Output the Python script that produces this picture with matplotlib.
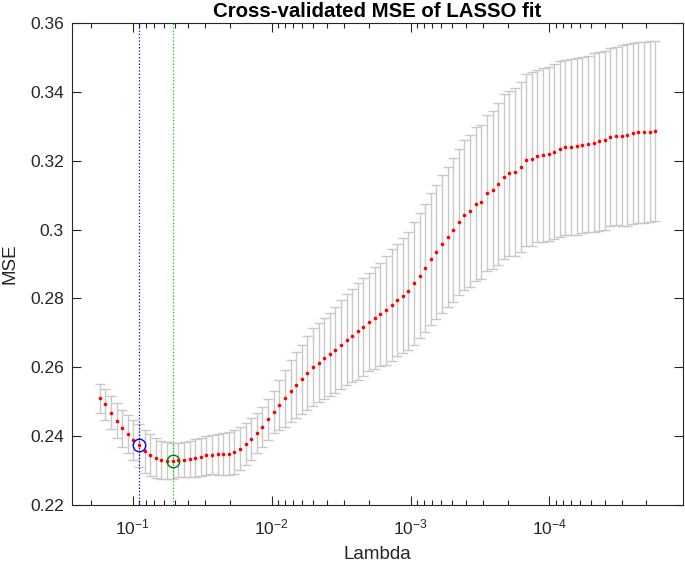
import numpy as np
import matplotlib
matplotlib.use("Agg")
import matplotlib.pyplot as plt
from matplotlib.ticker import LogLocator, NullFormatter

plt.rcParams['font.family'] = ['Liberation Sans', 'DejaVu Sans']
plt.rcParams['mathtext.fontset'] = 'custom'
plt.rcParams['mathtext.rm'] = 'Liberation Sans'
plt.rcParams['mathtext.it'] = 'Liberation Sans'

# lambda grid of the lasso path (100 values, ratio 1e-4)
lambda_max = 0.173
lambda_min = 1.73e-5
lam = np.geomspace(lambda_max, lambda_min, 100)

# cross-validated MSE
mse = [0.2510, 0.2492, 0.2468, 0.2445, 0.2423, 0.2406, 0.2389, 0.2373, 0.2356, 0.2344,
       0.2337, 0.2331, 0.2329, 0.2328, 0.2330, 0.2331, 0.2334, 0.2337, 0.2340, 0.2344,
       0.2346, 0.2347, 0.2347, 0.2349, 0.2353, 0.2364, 0.2377, 0.2392, 0.2408, 0.2427,
       0.2449, 0.2470, 0.2490, 0.2510, 0.2531, 0.2549, 0.2565, 0.2584, 0.2601, 0.2613,
       0.2626, 0.2638, 0.2649, 0.2666, 0.2680, 0.2692, 0.2704, 0.2717, 0.2732, 0.2744,
       0.2754, 0.2765, 0.2780, 0.2795, 0.2808, 0.2822, 0.2844, 0.2866, 0.2888, 0.2914,
       0.2935, 0.2958, 0.2978, 0.2998, 0.3021, 0.3042, 0.3053, 0.3074, 0.3080, 0.3106,
       0.3115, 0.3132, 0.3154, 0.3163, 0.3167, 0.3181, 0.3202, 0.3205, 0.3213, 0.3216,
       0.3219, 0.3226, 0.3234, 0.3239, 0.3240, 0.3242, 0.3246, 0.3249, 0.3252, 0.3256,
       0.3260, 0.3268, 0.3272, 0.3272, 0.3275, 0.3280, 0.3282, 0.3283, 0.3284, 0.3286]

# standard error of the MSE
se = [0.0042, 0.0045, 0.0048, 0.0051, 0.0054, 0.0056, 0.0058, 0.0062, 0.0062, 0.0061,
      0.0059, 0.0056, 0.0054, 0.0053, 0.0050, 0.0051, 0.0053, 0.0055, 0.0056, 0.0056,
      0.0057, 0.0059, 0.0061, 0.0062, 0.0064, 0.0062, 0.0060, 0.0060, 0.0058, 0.0058,
      0.0060, 0.0062, 0.0073, 0.0082, 0.0090, 0.0096, 0.0100, 0.0107, 0.0112, 0.0115,
      0.0117, 0.0121, 0.0125, 0.0129, 0.0132, 0.0135, 0.0140, 0.0141, 0.0143, 0.0148,
      0.0150, 0.0158, 0.0163, 0.0163, 0.0167, 0.0172, 0.0179, 0.0181, 0.0185, 0.0191,
      0.0195, 0.0200, 0.0203, 0.0209, 0.0212, 0.0218, 0.0221, 0.0223, 0.0223, 0.0227,
      0.0229, 0.0235, 0.0239, 0.0240, 0.0244, 0.0247, 0.0250, 0.0254, 0.0250, 0.0252,
      0.0252, 0.0254, 0.0256, 0.0254, 0.0255, 0.0257, 0.0255, 0.0256, 0.0260, 0.0260,
      0.0260, 0.0258, 0.0259, 0.0263, 0.0264, 0.0263, 0.0262, 0.0263, 0.0263, 0.0262]

idx_1se = 7
idx_min = 13

yticks = [0.22, 0.24, 0.26, 0.28, 0.30, 0.32, 0.34, 0.36]
ytick_labels = ['0.22', '0.24', '0.26', '0.28', '0.3', '0.32', '0.34', '0.36']

axcol = '#262626'

fig = plt.figure(figsize=(6.85, 5.67), dpi=100)
ax = fig.add_axes([72/685, 1-505/567, (683-72)/685, (505-23)/567])

ax.errorbar(lam, mse, yerr=se, fmt='none', ecolor='#c8c8c8', elinewidth=1.0,
            capsize=3.9, capthick=1.0, zorder=2)
ax.plot(lam, mse, 'o', color='red', markersize=2.6, markeredgewidth=0, zorder=4)

ax.axvline(lam[idx_1se], color='#0000ff', linestyle=':', linewidth=0.9, zorder=3)
ax.axvline(lam[idx_min], color='#00d000', linestyle=':', linewidth=0.9, zorder=3)
ax.plot(lam[idx_1se], mse[idx_1se], 'o', mfc='none', mec='blue', markersize=9, mew=1.0, zorder=5)
ax.plot(lam[idx_min], mse[idx_min], 'o', mfc='none', mec='#007f00', markersize=9, mew=1.0, zorder=5)

ax.set_xscale('log')
ax.set_xlim(lambda_max * 10**0.2, lambda_min / 10**0.2)
ax.set_ylim(0.22, 0.36)
ax.set_xticks([1e-1, 1e-2, 1e-3, 1e-4])
ax.set_xticklabels(['$10^{-1}$', '$10^{-2}$', '$10^{-3}$', '$10^{-4}$'])
ax.xaxis.set_minor_locator(LogLocator(base=10, subs=np.arange(2, 10)))
ax.xaxis.set_minor_formatter(NullFormatter())
ax.set_yticks(yticks)
ax.set_yticklabels(ytick_labels)

ax.tick_params(axis='both', which='major', direction='in', length=6.5, width=0.8,
               top=True, right=True, colors=axcol, labelsize=12.5)
ax.tick_params(axis='x', which='minor', direction='in', length=3.5, width=0.8,
               top=True, colors=axcol)
ax.tick_params(axis='x', which='major', pad=9)
ax.tick_params(axis='y', which='major', pad=6)
for s in ax.spines.values():
    s.set_color(axcol)
    s.set_linewidth(0.8)

ax.set_title('Cross-validated MSE of LASSO fit', fontsize=14.7, fontweight='bold', pad=4)
ax.set_xlabel('Lambda', fontsize=13.5, color=axcol, labelpad=6)
ax.set_ylabel('MSE', fontsize=13.5, color=axcol, labelpad=8)

fig.savefig('out.png', dpi=100)
